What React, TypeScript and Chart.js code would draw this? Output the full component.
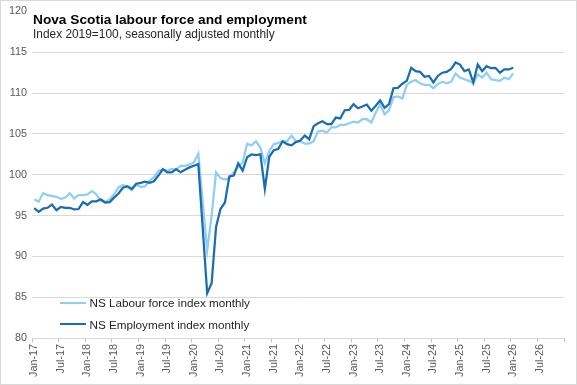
import React, { useEffect, useRef } from 'react';
import { Chart, registerables } from 'chart.js';

Chart.register(...registerables);

const MONTHS = ['Jan', 'Feb', 'Mar', 'Apr', 'May', 'Jun', 'Jul', 'Aug', 'Sep', 'Oct', 'Nov', 'Dec'];
const YEARS = ['17', '18', '19', '20', '21', '22', '23', '24', '25', '26'];
const categories = YEARS.flatMap((y) => MONTHS.map((m) => `${m}-${y}`));

const Y_MIN = 80;
const Y_MAX = 120;
const Y_STEP = 5;

const labourForce = [
  97.0, 96.7, 97.75, 97.5, 97.4, 97.3, 97.05, 97.2, 97.75, 97.1, 97.5, 97.5,
  97.6, 98.0, 97.6, 96.8, 96.65, 97.0, 97.6, 98.45, 98.75, 98.5, 98.1, 98.8,
  98.5, 98.6, 99.3, 99.7, 100.5, 100.6, 100.5, 100.7, 100.6, 101.1, 101.1, 101.25,
  101.5, 102.6, 96.6, 90.7, 95.0, 100.3, 99.6, 99.4, 99.6, 100.3, 100.95, 101.5,
  103.8, 103.6, 104.1, 103.3, 101.4, 102.9, 103.75, 103.9, 104.1, 104.1, 104.8, 104.1,
  104.1, 103.8, 103.8, 104.1, 105.3, 105.4, 105.15, 105.8, 105.8, 106.1, 106.1, 106.3,
  106.5, 106.4, 106.8, 106.8, 106.4, 107.6, 108.6, 107.4, 107.9, 109.5, 109.6, 109.35,
  111.0, 111.4, 111.6, 111.2, 111.0, 111.0, 110.6, 111.1, 111.4, 111.2, 111.4, 112.4,
  111.9, 111.7, 111.5, 111.2, 112.3, 111.9, 112.5, 111.7, 111.6, 111.5, 111.9, 111.7,
  112.4,
];

const employment = [
  95.9, 95.45, 95.85, 95.95, 96.35, 95.65, 96.05, 95.95, 95.95, 95.75, 95.8, 96.65,
  96.3, 96.75, 96.75, 97.0, 96.6, 96.65, 97.2, 97.7, 98.4, 98.6, 98.25, 98.9,
  99.0, 99.15, 99.0, 99.2, 99.9, 100.7, 100.3, 100.3, 100.7, 100.3, 100.6, 100.9,
  101.1, 101.3, 93.4, 85.5, 86.7, 93.6, 95.8, 96.6, 99.8, 99.9, 101.4, 100.5,
  102.15, 102.5, 102.4, 102.5, 98.25, 102.2, 103.0, 103.15, 104.1, 103.75, 103.6, 104.0,
  104.2, 104.8, 104.35, 105.95, 106.3, 106.55, 106.2, 106.2, 107.0, 106.9, 107.9, 107.95,
  108.65, 108.15, 108.35, 108.6, 107.85, 108.45, 109.1, 108.2, 108.65, 110.6, 110.65, 111.15,
  111.5, 113.1, 112.7, 112.6, 112.0, 112.1, 111.3, 112.1, 112.5, 112.6, 112.95, 113.75,
  113.5, 112.7, 112.9, 111.3, 113.5, 112.7, 113.3, 113.05, 113.1, 112.5, 112.9, 112.9,
  113.1,
];

const TITLE = 'Nova Scotia labour force and employment';
const SUBTITLE = 'Index 2019=100, seasonally adjusted monthly';
const LF_LABEL = 'NS Labour force index monthly';
const EMP_LABEL = 'NS Employment index monthly';

const LIGHT = '#92CDF3';
const DARK = '#1A6DB0';
const GRID = '#d9d9d9';
const TICK_COLOR = '#595959';
const FONT = '"Liberation Sans", Arial, sans-serif';

export default function App() {
  const ref = useRef<HTMLCanvasElement>(null);

  useEffect(() => {
    if (!ref.current) return;
    const chart = new Chart(ref.current, {
      type: 'line',
      data: {
        labels: categories,
        datasets: [
          {
            label: LF_LABEL,
            data: labourForce,
            borderColor: LIGHT,
            backgroundColor: LIGHT,
            borderWidth: 2.25,
            pointRadius: 0,
            tension: 0,
            order: 1,
          },
          {
            label: EMP_LABEL,
            data: employment,
            borderColor: DARK,
            backgroundColor: DARK,
            borderWidth: 2.25,
            pointRadius: 0,
            tension: 0,
            order: 0,
          },
        ],
      },
      options: {
        animation: false,
        responsive: false,
        layout: { padding: { left: 0, right: 9, top: 10, bottom: 0 } },
        plugins: {
          legend: { display: false },
          tooltip: { enabled: false },
        },
        scales: {
          x: {
            type: 'category',
            offset: true,
            grid: {
              offset: true,
              drawOnChartArea: false,
              drawTicks: true,
              tickLength: 4,
              color: (ctx: any) =>
                ctx.index === undefined || ctx.index % 6 === 0 ? '#bfbfbf' : 'rgba(0,0,0,0)',
            },
            border: { display: true, color: GRID },
            ticks: {
              autoSkip: false,
              maxRotation: 90,
              minRotation: 90,
              padding: 2,
              color: TICK_COLOR,
              font: { family: FONT, size: 10.8 },
              callback: (_v: any, i: number) => (i % 6 === 0 ? categories[i] : ''),
            },
            afterFit: (s: any) => {
              s.height = 47;
            },
          },
          y: {
            min: Y_MIN,
            max: Y_MAX,
            ticks: {
              stepSize: Y_STEP,
              padding: 5,
              color: TICK_COLOR,
              font: { family: FONT, size: 10.8 },
            },
            grid: {
              color: (ctx: any) => (ctx.tick && ctx.tick.value === Y_MAX ? 'rgba(0,0,0,0)' : GRID),
              drawTicks: false,
            },
            border: { display: false },
            afterFit: (s: any) => {
              s.width = 32;
            },
          },
        },
      },
    });
    return () => chart.destroy();
  }, []);

  return (
    <div style={{ position: 'fixed', left: 0, top: 0, width: 577, height: 385, background: '#fff' }}>
      <canvas ref={ref} width={577} height={385} style={{ position: 'absolute', left: 0, top: 0, width: 577, height: 385 }} />
      <div
        style={{
          position: 'absolute',
          left: 33,
          top: 13.4,
          fontFamily: FONT,
          fontWeight: 'bold',
          fontSize: 13.7,
          lineHeight: '13.7px',
          color: '#000',
          whiteSpace: 'nowrap',
        }}
      >
        {TITLE}
      </div>
      <div
        style={{
          position: 'absolute',
          left: 33,
          top: 28.9,
          fontFamily: FONT,
          fontSize: 11.9,
          lineHeight: '11.9px',
          color: '#262626',
          whiteSpace: 'nowrap',
        }}
      >
        {SUBTITLE}
      </div>
      <div style={{ position: 'absolute', left: 60, top: 301.6, width: 26, height: 2.25, background: LIGHT }} />
      <div
        style={{
          position: 'absolute',
          left: 89.5,
          top: 297.4,
          fontFamily: FONT,
          fontSize: 11.7,
          lineHeight: '11.7px',
          color: '#262626',
          whiteSpace: 'nowrap',
        }}
      >
        {LF_LABEL}
      </div>
      <div style={{ position: 'absolute', left: 60, top: 323.2, width: 26, height: 2.25, background: DARK }} />
      <div
        style={{
          position: 'absolute',
          left: 89.5,
          top: 319.4,
          fontFamily: FONT,
          fontSize: 11.7,
          lineHeight: '11.7px',
          color: '#262626',
          whiteSpace: 'nowrap',
        }}
      >
        {EMP_LABEL}
      </div>
      <div
        style={{
          position: 'absolute',
          left: 0,
          top: 0,
          width: 577,
          height: 385,
          boxSizing: 'border-box',
          border: '1px solid #d9d9d9',
          pointerEvents: 'none',
        }}
      />
    </div>
  );
}
